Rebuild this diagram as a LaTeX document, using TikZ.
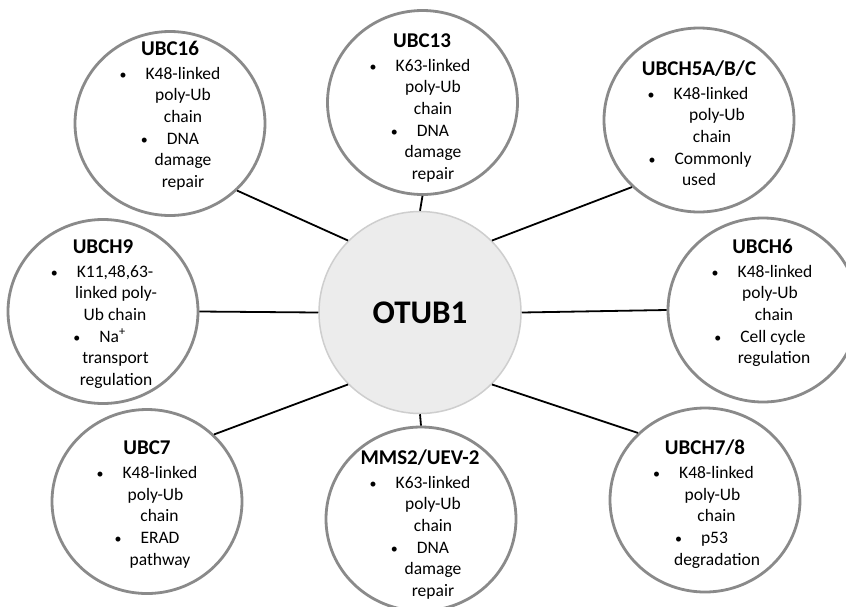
\documentclass[tikz,border=0pt]{standalone}
\usepackage{fontspec}
\setmainfont{Carlito}
\usetikzlibrary{shapes.geometric}
\definecolor{ringgray}{RGB}{138,138,138}
\definecolor{hubfill}{RGB}{236,236,236}
\definecolor{hubedge}{RGB}{206,206,206}
\newcommand\ttl[1]{\rule{0pt}{16pt}\makebox[0pt]{\bfseries\fontsize{21}{21.6}\selectfont #1}}
\newcommand\cln[2]{\makebox[0pt]{\hspace*{#1pt}#2}}
\newcommand\bln[2]{\makebox[0pt]{\hspace*{#1pt}\llap{{\fontsize{14}{14}\selectfont •}\hspace{19pt}}#2}}
\begin{document}
\begin{tikzpicture}[x=1pt,y=-1pt,
 ring/.style={ellipse, draw=ringgray, line width=2.8pt, fill=white, minimum width=190pt, minimum height=184pt, inner sep=0pt},
 hub/.style={circle, draw=hubedge, line width=1.5pt, fill=hubfill, minimum size=202pt, inner sep=0pt, font=\bfseries\fontsize{33}{36}\selectfont},
 txt/.style={anchor=north, inner sep=0pt, align=center, font=\fontsize{17.5}{21.6}\selectfont},
 link/.style={line width=1.8pt, black}]
\useasboundingbox (0,0) rectangle (846,606);
\clip (0,0) rectangle (846,606);
\fill[white] (0,0) rectangle (846,606);

\node[hub] (hub) at (420,312.5) {OTUB1};
\node[ring] (c16) at (170,123.5) {};
\node[ring] (c13) at (422.5,102.5) {};
\node[ring] (c5) at (699,120) {};
\node[ring] (c9) at (103,311.5) {};
\node[ring] (c6) at (763,310) {};
\node[ring] (c7) at (147,501.5) {};
\node[ring] (cm) at (421,519) {};
\node[ring] (c78) at (705,500) {};

\draw[link] (c16.-45) -- (hub.135);
\draw[link] (c13.south) -- (hub.north);
\draw[link] (c5.225) -- (hub.45);
\draw[link] (c9.east) -- (hub.west);
\draw[link] (c6.west) -- (hub.east);
\draw[link] (c7.45) -- (hub.225);
\draw[link] (cm.north) -- (hub.south);
\draw[link] (c78.135) -- (hub.-45);

\node[txt] (t16) at (170,39) {\ttl{UBC16}\\[2.4pt] \bln{26}{K48-linked}\\ \cln{26}{poly-Ub}\\ \cln{26}{chain}\\ \bln{26}{DNA}\\ \cln{26}{damage}\\ \cln{26}{repair}};
\node[txt] (t13) at (422,31) {\ttl{UBC13}\\[2.4pt] \bln{22}{K63-linked}\\ \cln{22}{poly-Ub}\\ \cln{22}{chain}\\ \bln{22}{DNA}\\ \cln{22}{damage}\\ \cln{22}{repair}};
\node[txt] (t5) at (699,59) {\ttl{UBCH5A/B/C}\\[2.4pt] \bln{24}{K48-linked}\\ \cln{36}{poly-Ub}\\ \cln{26}{chain}\\ \bln{28}{Commonly}\\ \cln{0}{used}};
\node[txt] (t9) at (103,237) {\ttl{UBCH9}\\[2.4pt] \bln{24}{K11,48,63-}\\ \cln{26}{linked poly-}\\ \cln{24}{Ub chain}\\ \bln{19}{Na\textsuperscript{+}}\\ \cln{25}{transport}\\ \cln{26}{regulation}};
\node[txt] (t6) at (762.5,237) {\ttl{UBCH6}\\[2.4pt] \bln{25}{K48-linked}\\ \cln{15}{poly-Ub}\\ \cln{23}{chain}\\ \bln{21}{Cell cycle}\\ \cln{23}{regulation}};
\node[txt] (t7) at (147,438.5) {\ttl{UBC7}\\[2.4pt] \bln{26}{K48-linked}\\ \cln{17}{poly-Ub}\\ \cln{25}{chain}\\ \bln{26}{ERAD}\\ \cln{26}{pathway}};
\node[txt] (tm) at (420,448) {\ttl{MMS2/UEV-2}\\[2.4pt] \bln{26}{K63-linked}\\ \cln{26}{poly-Ub}\\ \cln{26}{chain}\\ \bln{26}{DNA}\\ \cln{26}{damage}\\ \cln{26}{repair}};
\node[txt] (t78) at (705,438.5) {\ttl{UBCH7/8}\\[2.4pt] \bln{23}{K48-linked}\\ \cln{15}{poly-Ub}\\ \cln{23}{chain}\\ \bln{19}{p53}\\ \cln{24}{degradation}};
\end{tikzpicture}
\end{document}
